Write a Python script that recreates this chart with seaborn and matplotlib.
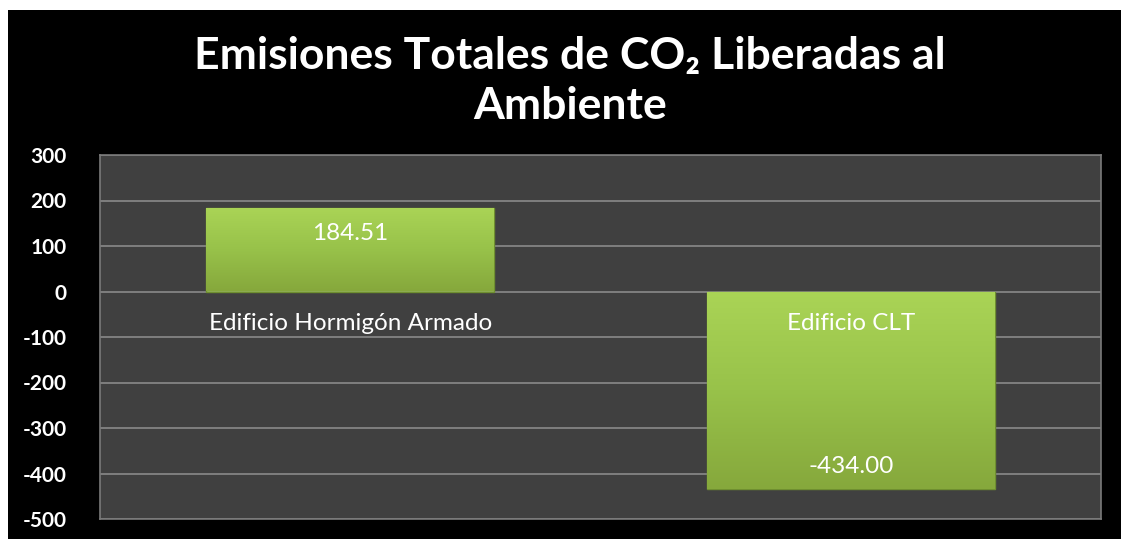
import numpy as np
import pandas as pd
import matplotlib
matplotlib.use("Agg")
import matplotlib.pyplot as plt
import seaborn as sns
from matplotlib.patches import Rectangle
from matplotlib.colors import LinearSegmentedColormap

categories = ["Edificio Hormigón Armado", "Edificio CLT"]
values = [184.51, -434.00]
value_labels = ["184.51", "-434.00"]
yticks = [300, 200, 100, 0, -100, -200, -300, -400, -500]
title = "Emisiones Totales de CO₂ Liberadas al\nAmbiente"

sns.set_theme(style="dark")
plt.rcParams["font.family"] = ["Lato", "DejaVu Sans"]

W, H = 1121, 539
fig = plt.figure(figsize=(W / 100, H / 100), dpi=100, facecolor="white")
# black slide area with thin white margin at top/left
bg = Rectangle((8 / W, 0), 1 - 8 / W, 1 - 10 / H, transform=fig.transFigure,
               facecolor="black", edgecolor="none", zorder=-10)
fig.patches.append(bg)

ax = fig.add_axes([100 / W, (H - 519) / H, 1001 / W, (519 - 155) / H])
ax.set_zorder(1)
ax.set_facecolor("#404040")

df = pd.DataFrame({"cat": categories, "val": values})
sns.barplot(data=df, x="cat", y="val", color="#98c24a", width=0.575, ax=ax,
            edgecolor="#6f8f30", linewidth=1.0, zorder=3)

ax.set_ylim(min(yticks), max(yticks))
ax.set_yticks(yticks)
ax.set_yticklabels([str(t) for t in yticks], color="white", fontsize=15, fontweight="bold")
ax.tick_params(axis="y", length=0, pad=24)
ax.set_xticks([])
ax.set_xlabel("")
ax.set_ylabel("")
ax.grid(axis="y", color="#8a8a8a", linewidth=1.2, zorder=1)
ax.grid(axis="x", visible=False)
ax.set_axisbelow(True)
for s in ax.spines.values():
    s.set_color("#7a7a7a")
    s.set_linewidth(1.2)

# gradient fill on the bars
cmap = LinearSegmentedColormap.from_list("g", ["#86a83c", "#98c24a", "#aad456"])
grad = np.linspace(0, 1, 256).reshape(-1, 1)
for p in ax.patches:
    x0, y0 = p.get_x(), p.get_y()
    w, h = p.get_width(), p.get_height()
    ylo, yhi = min(y0, y0 + h), max(y0, y0 + h)
    im = ax.imshow(grad, extent=[x0, x0 + w, ylo, yhi], origin="lower", cmap=cmap,
                   aspect="auto", zorder=3.5)
    im.set_clip_path(p)
ax.set_xlim(-0.5, 1.5)
ax.set_ylim(min(yticks), max(yticks))

# category labels just below zero line
for i, c in enumerate(categories):
    ax.annotate(c, (i, 0), xytext=(0, -23), textcoords="offset points", ha="center",
                va="center", color="white", fontsize=17.5, zorder=5)

# value labels inside bar end
for i, (v, lab) in enumerate(zip(values, value_labels)):
    off = -19 if v > 0 else 16
    ax.annotate(lab, (i, v), xytext=(0, off), textcoords="offset points", ha="center",
                va="center", color="white", fontsize=17.5, zorder=5)

fig.text(570 / W, 1 - 81 / H, title, ha="center", va="center", color="white",
         fontsize=32, fontweight="bold", linespacing=1.3)

fig.savefig("out.png", dpi=100, facecolor="white")
